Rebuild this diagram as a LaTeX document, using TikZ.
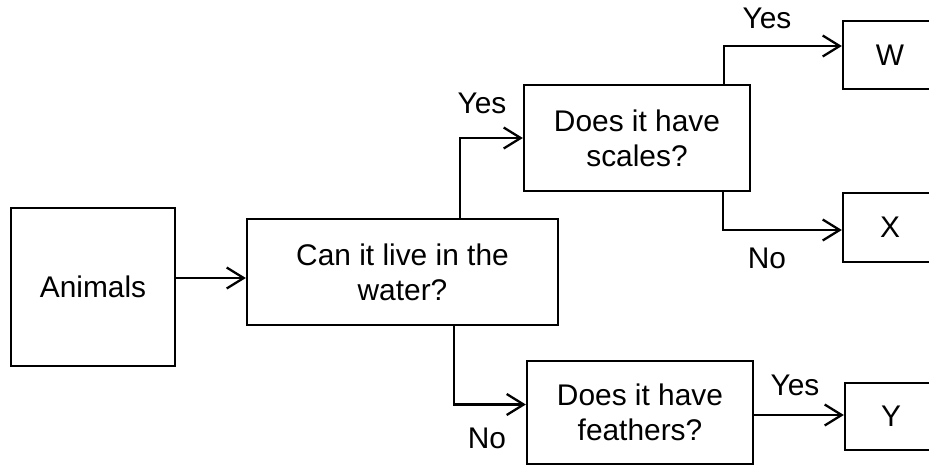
\documentclass[tikz,border=0pt]{standalone}
\usepackage{fontspec}
\setmainfont{Liberation Sans}
\usetikzlibrary{arrows.meta}
\begin{document}
\begin{tikzpicture}[box/.style={rectangle, draw, line width=1.3pt,
      inner sep=0pt, align=center, font=\fontsize{17}{20}\selectfont},
    lbl/.style={inner sep=0pt, font=\fontsize{17}{20}\selectfont}]
    \useasboundingbox (0,0) rectangle (18.58,-9.34);
    \clip (0,0) rectangle (18.58,-9.34);
    \begin{scope}[every node/.style={box}]
      \node [minimum width=3.28cm, minimum height=3.16cm] (animals) at
      (1.86,-5.74) {Animals}; \node [minimum width=6.22cm, minimum
      height=2.12cm] (water) at (8.05,-5.44) {Can it live in the\\water?};
      \node [minimum width=4.52cm, minimum height=2.12cm] (scales) at
      (12.74,-2.76) {Does it have\\scales?}; \node [minimum width=4.52cm,
      minimum height=2.06cm] (feathers) at (12.8,-8.25) {Does it
        have\\feathers?};
      \node [minimum width=1.88cm, minimum height=1.36cm] (w) at
      (17.8,-1.1) {W}; \node [minimum width=1.88cm, minimum
      height=1.38cm] (x) at (17.8,-4.55) {X}; \node [minimum
      width=1.84cm, minimum height=1.34cm] (y) at (17.82,-8.33) {Y};
    \end{scope}
    \begin{scope}[every node/.style={lbl}]
      \node (yes1) at (9.64,-2.06) {Yes}; \node (no1) at (9.74,-8.76)
      {No}; \node (yes2) at (15.34,-0.36) {Yes}; \node (no2) at
      (15.34,-5.16) {No}; \node (yes3) at (15.9,-7.7) {Yes};
    \end{scope}
    \begin{scope}[->, >={Straight Barb[length=3.4mm, width=4.2mm]},
      line width=1.3pt]
      \draw ([yshift=.18cm]animals.east) -- ([yshift=.18cm]animals.east
      -| water.west); \draw ([xshift=1.15cm]water.north) |-
      (scales.west); \draw ([xshift=1.03cm]water.south) |-
      ([yshift=.16cm]feathers.west); \draw ([xshift=1.74cm]scales.north)
      |- ([yshift=.18cm]w.west); \draw ([xshift=1.72cm]scales.south) |-
      ([yshift=-.05cm]x.west); \draw ([yshift=-.05cm]feathers.east) --
      ([yshift=-.05cm]feathers.east -| y.west);
    \end{scope}
  \end{tikzpicture}
\end{document}
